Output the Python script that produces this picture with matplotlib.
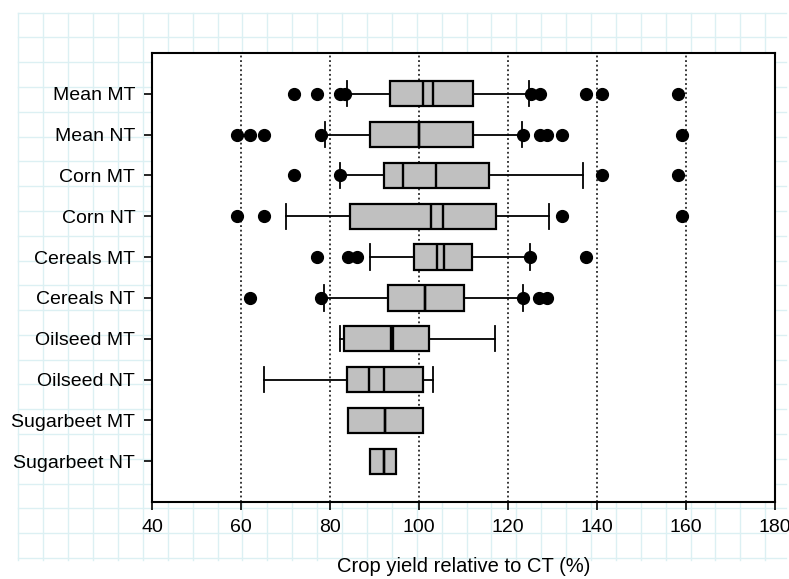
import numpy as np
import matplotlib.pyplot as plt

plt.rcParams['font.family'] = ['Liberation Sans', 'DejaVu Sans']

# rows from top to bottom
labels = ['Mean MT', 'Mean NT', 'Corn MT', 'Corn NT', 'Cereals MT',
          'Cereals NT', 'Oilseed MT', 'Oilseed NT', 'Sugarbeet MT', 'Sugarbeet NT']
q1 = [93.4, 88.9, 92.1, 84.4, 98.8, 93.0, 83.1, 83.8, 84.0, 88.9]
q3 = [112.1, 112.1, 115.7, 117.4, 111.9, 110.2, 102.2, 101.0, 100.8, 94.9]
medians = [100.9, 99.9, 96.3, 102.7, 104.0, 101.3, 93.7, 88.7, 92.4, 92.1]
means = [103.2, 99.9, 103.8, 105.4, 105.6, 101.3, 94.2, 92.1, 92.4, 92.1]
whisk_lo = [83.8, 78.9, 82.2, 70.1, 88.9, 78.6, 82.2, 65.1, 84.0, 88.9]
whisk_hi = [124.7, 123.2, 136.9, 129.3, 124.9, 123.3, 117.0, 103.1, 100.8, 94.9]
outliers = [
    [72.0, 77.1, 82.3, 83.4, 125.1, 127.2, 137.5, 141.1, 158.1],
    [59.1, 62.1, 65.1, 78.0, 123.3, 127.2, 128.8, 132.1, 159.2],
    [72.0, 82.2, 141.1, 158.1],
    [59.1, 65.1, 132.1, 159.2],
    [77.1, 84.0, 86.1, 125.0, 137.5],
    [62.1, 78.0, 123.3, 127.0, 128.8],
    [],
    [],
    [],
    [],
]

fig = plt.figure(figsize=(7.89, 5.79), dpi=100)

# light graph-paper background behind everything
bg = fig.add_axes([0, 0, 1, 1], zorder=-1)
bg.set_xlim(0, 789)
bg.set_ylim(579, 0)
bg.axis('off')
for gx in np.arange(18.3, 790, 24.9):
    bg.plot([gx, gx], [12.5, 560], color='#dcf0f3', lw=1)
for gy in np.arange(12.5, 562, 24.8):
    bg.plot([18.3, 786], [gy, gy], color='#dcf0f3', lw=1)

ax = fig.add_axes([152 / 789, 1 - 502 / 579, (775 - 152) / 789, (502 - 53) / 579])
ax.set_facecolor('white')

n = len(labels)
pos = np.arange(n, 0, -1)
stats = []
for i in range(n):
    stats.append(dict(med=medians[i], q1=q1[i], q3=q3[i], whislo=whisk_lo[i],
                      whishi=whisk_hi[i], fliers=outliers[i], mean=means[i]))

ax.bxp(stats, positions=pos, widths=0.62, vert=False, patch_artist=True,
       showmeans=True, meanline=True, showfliers=True,
       boxprops=dict(facecolor='#c0c0c0', edgecolor='black', linewidth=1.6),
       medianprops=dict(color='black', linewidth=1.7),
       meanprops=dict(color='black', linewidth=1.7, linestyle='-'),
       whiskerprops=dict(color='black', linewidth=1.3),
       capprops=dict(color='black', linewidth=1.3),
       capwidths=0.62,
       flierprops=dict(marker='o', markerfacecolor='black', markeredgecolor='black',
                       markersize=8.5, linestyle='none'))

for gx in [60, 80, 100, 120, 140, 160]:
    ax.axvline(gx, color='black', linestyle=(0, (1.2, 1.8)), lw=1.1, zorder=0)

ax.set_xlim(40, 180)
ax.set_ylim(0, n + 1)
ax.set_xticks(np.arange(40, 181, 20))
ax.set_yticks(pos)
ax.set_yticklabels(labels)
ax.tick_params(axis='both', labelsize=14, direction='out', length=5.5, width=1.2,
               colors='black')
ax.tick_params(axis='y', pad=6.5)
ax.tick_params(axis='x', pad=7)
for s in ax.spines.values():
    s.set_linewidth(1.5)
ax.set_xlabel('Crop yield relative to CT (%)', fontsize=14.5, labelpad=15)

fig.savefig('out.png', dpi=100)
